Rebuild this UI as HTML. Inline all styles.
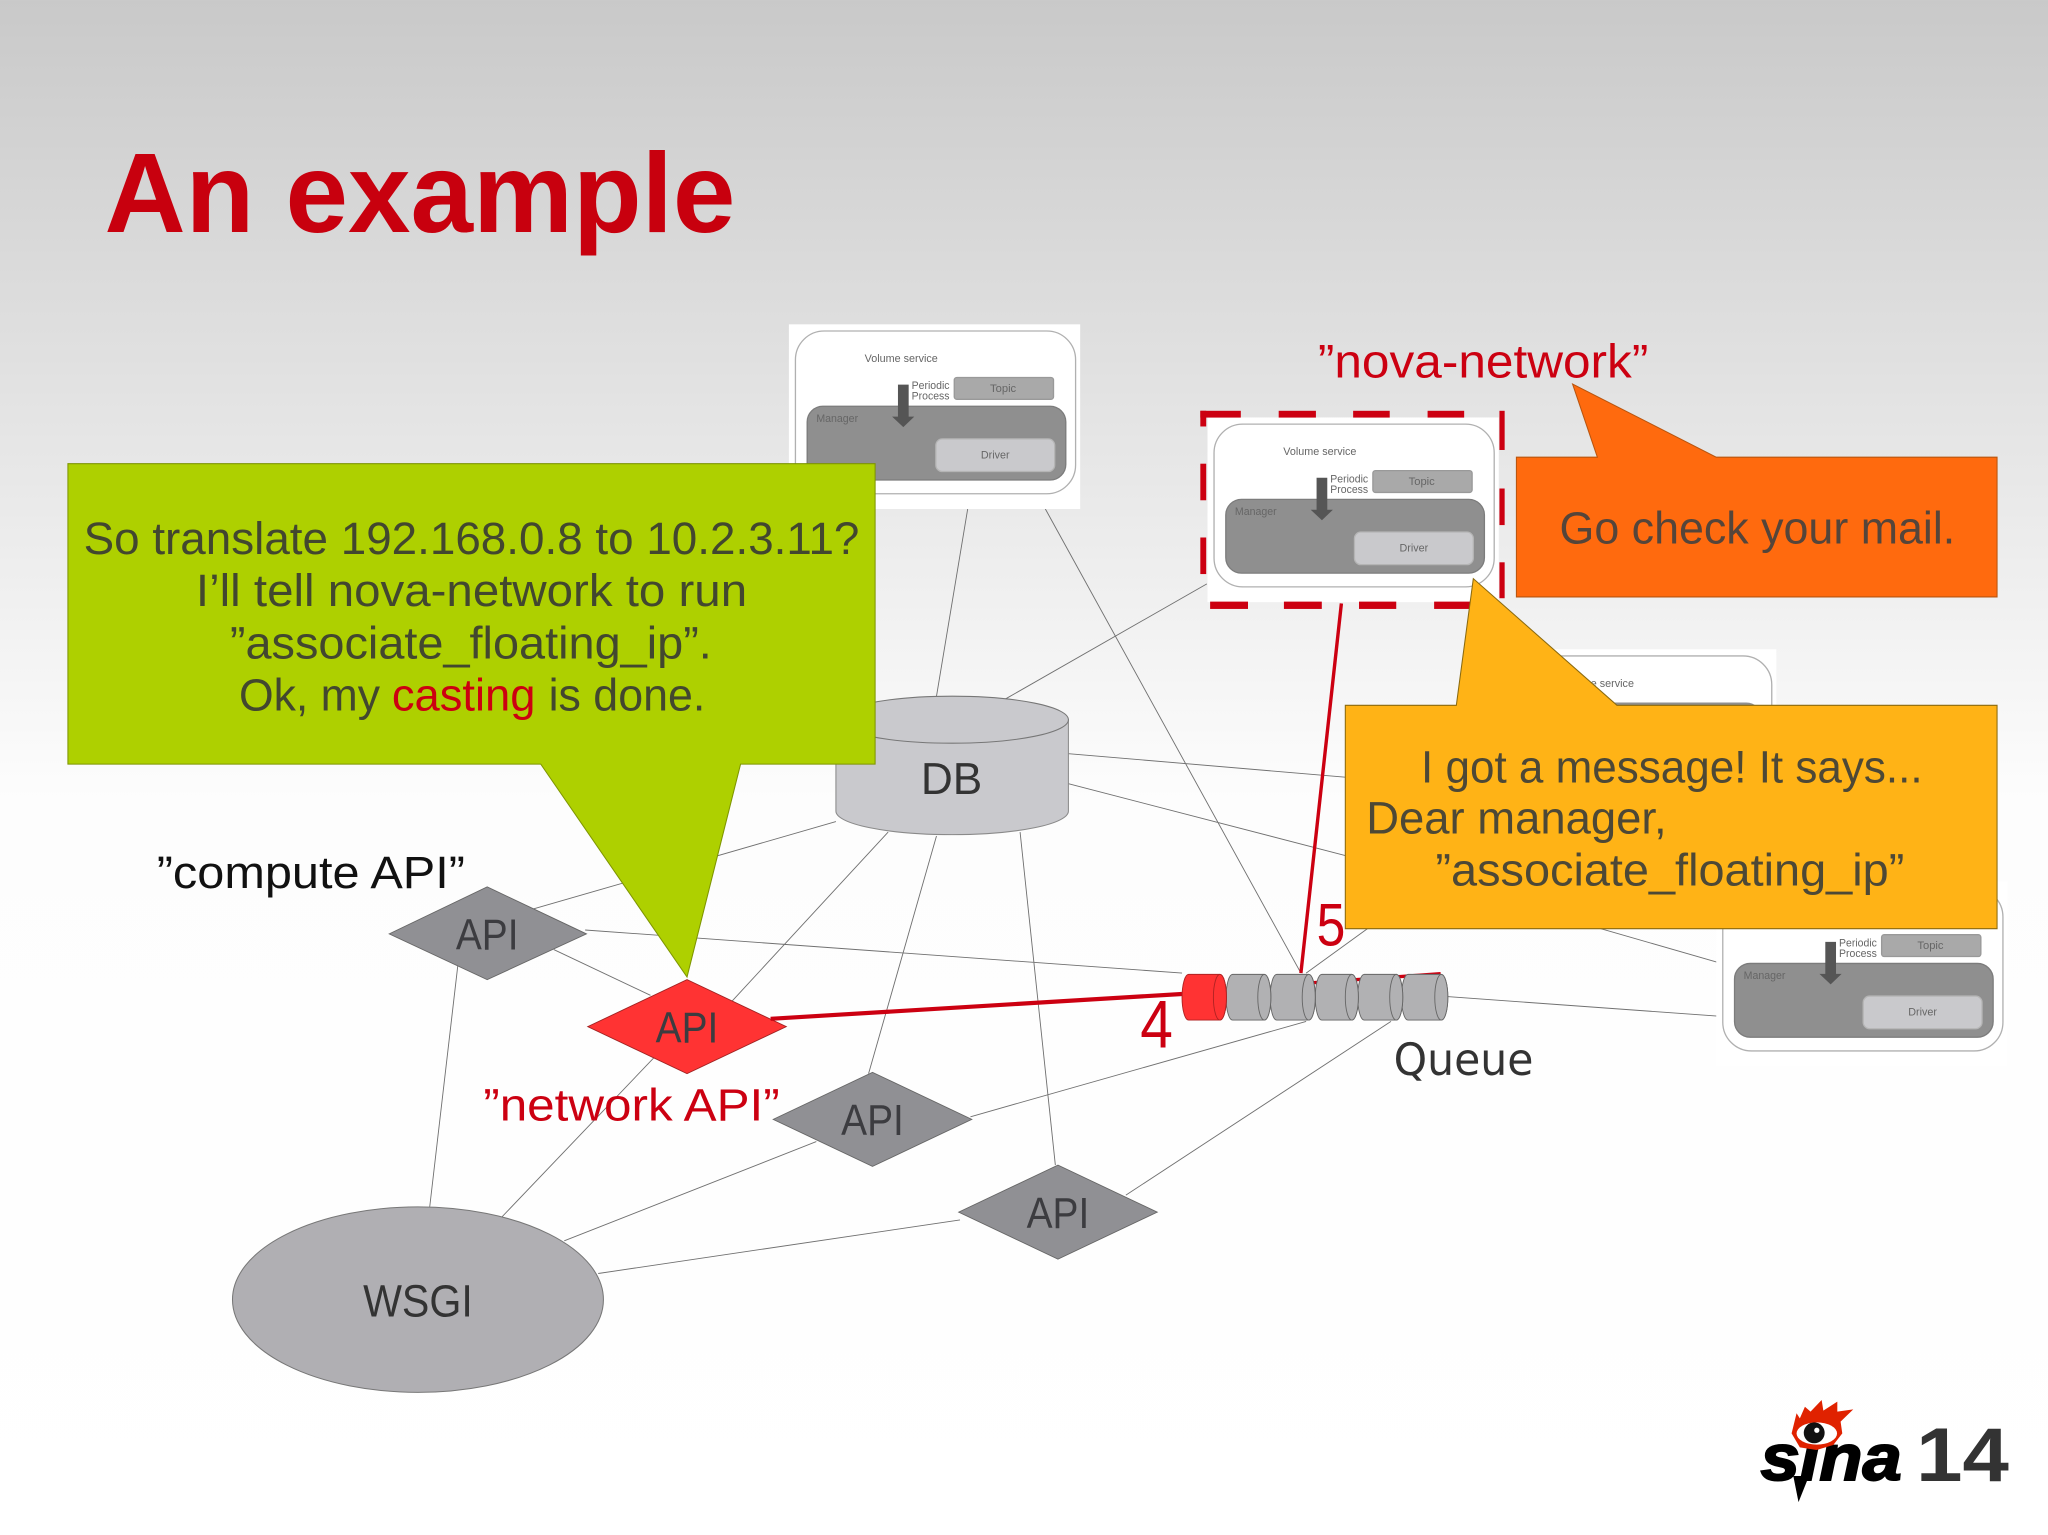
<!DOCTYPE html>
<html><head><meta charset="utf-8"><title>An example</title>
<style>html,body{margin:0;padding:0;background:#fff}svg{display:block}text{font-family:"Liberation Sans",sans-serif}</style></head>
<body>
<svg xmlns="http://www.w3.org/2000/svg" width="2048" height="1535" viewBox="0 0 1568 1175.2">
<defs><linearGradient id="bg" x1="0" y1="0" x2="0" y2="1"><stop offset="0" stop-color="#c9c9c9"/><stop offset="0.52" stop-color="#fdfdfd"/><stop offset="1" stop-color="#fff"/></linearGradient></defs>
<rect width="1568" height="1176" fill="url(#bg)"/>
<text x="80" y="177.5" font-size="87" font-weight="bold" fill="#c8000e" textLength="483" lengthAdjust="spacingAndGlyphs">An example</text>

<g stroke="#707070" stroke-width="0.7" fill="none">
<path d="M741 389L717 533M800 389L996 745M924 447L770 535M818 577L1030 595M818 600L1030 655M640 629L408 696M680 637L560 767M717 640L665 822M781 637L808 892M448 712L905 745M424 727L498 762M351 735L329 924M510 800L384 932M743 855L1000 782M625 874L432 950M735 934L458 975M862 915L1065 782M1108 763L1316 778M1222 710L1316 737M1000 745L1047 711"/>
</g>

<!-- symbol: top -->
<g>
<rect x="604" y="248.3" width="223" height="141.4" fill="#fff"/>
<rect x="609" y="253.4" width="214.5" height="124.6" rx="22" fill="#fff" stroke="#b0b0b0" stroke-width="1"/>
<rect x="618" y="311" width="198" height="56.5" rx="12" fill="#8f8f8f" stroke="#7c7c7c"/>
<rect x="716.5" y="336" width="91" height="25" rx="5" fill="#c9c9cc" stroke="#b5b5b5"/>
<rect x="730.6" y="289" width="76" height="16.7" rx="2" fill="#a9a9a9" stroke="#999"/>
<path d="M687.5 294.5H695.7V319H700L691.6 327L683 319H687.5Z" fill="#555"/>
<g font-size="8.5" fill="#666"><text x="662" y="277" textLength="56" lengthAdjust="spacingAndGlyphs">Volume service</text><text x="698" y="298" textLength="29" lengthAdjust="spacingAndGlyphs">Periodic</text><text x="698" y="306" textLength="29" lengthAdjust="spacingAndGlyphs">Process</text><text x="758" y="300" textLength="20" lengthAdjust="spacingAndGlyphs">Topic</text><text x="625" y="323" textLength="32" lengthAdjust="spacingAndGlyphs">Manager</text><text x="751" y="351" textLength="22" lengthAdjust="spacingAndGlyphs">Driver</text></g>
</g>
<!-- symbol: nova-network -->
<g transform="translate(320.5 71.3)">
<rect x="604" y="248.3" width="223" height="141.4" fill="#fff"/>
<rect x="609" y="253.4" width="214.5" height="124.6" rx="22" fill="#fff" stroke="#b0b0b0" stroke-width="1"/>
<rect x="618" y="311" width="198" height="56.5" rx="12" fill="#8f8f8f" stroke="#7c7c7c"/>
<rect x="716.5" y="336" width="91" height="25" rx="5" fill="#c9c9cc" stroke="#b5b5b5"/>
<rect x="730.6" y="289" width="76" height="16.7" rx="2" fill="#a9a9a9" stroke="#999"/>
<path d="M687.5 294.5H695.7V319H700L691.6 327L683 319H687.5Z" fill="#555"/>
<g font-size="8.5" fill="#666"><text x="662" y="277" textLength="56" lengthAdjust="spacingAndGlyphs">Volume service</text><text x="698" y="298" textLength="29" lengthAdjust="spacingAndGlyphs">Periodic</text><text x="698" y="306" textLength="29" lengthAdjust="spacingAndGlyphs">Process</text><text x="758" y="300" textLength="20" lengthAdjust="spacingAndGlyphs">Topic</text><text x="625" y="323" textLength="32" lengthAdjust="spacingAndGlyphs">Manager</text><text x="751" y="351" textLength="22" lengthAdjust="spacingAndGlyphs">Driver</text></g>
</g>
<!-- symbol: hidden behind yellow -->
<g transform="translate(533 248.8)">
<rect x="604" y="248.3" width="223" height="141.4" fill="#fff"/>
<rect x="609" y="253.4" width="214.5" height="124.6" rx="22" fill="#fff" stroke="#b0b0b0" stroke-width="1"/>
<rect x="618" y="289" width="198" height="78" rx="12" fill="#8f8f8f"/>
<text x="662" y="277" font-size="8.5" fill="#666" textLength="56" lengthAdjust="spacingAndGlyphs">Volume service</text>
</g>
<!-- symbol: right -->
<g transform="translate(710 426.6)">
<rect x="604" y="248.3" width="223" height="141.4" fill="#fff"/>
<rect x="609" y="253.4" width="214.5" height="124.6" rx="22" fill="#fff" stroke="#b0b0b0" stroke-width="1"/>
<rect x="618" y="311" width="198" height="56.5" rx="12" fill="#8f8f8f" stroke="#7c7c7c"/>
<rect x="716.5" y="336" width="91" height="25" rx="5" fill="#c9c9cc" stroke="#b5b5b5"/>
<rect x="730.6" y="289" width="76" height="16.7" rx="2" fill="#a9a9a9" stroke="#999"/>
<path d="M687.5 294.5H695.7V319H700L691.6 327L683 319H687.5Z" fill="#555"/>
<g font-size="8.5" fill="#666"><text x="698" y="298" textLength="29" lengthAdjust="spacingAndGlyphs">Periodic</text><text x="698" y="306" textLength="29" lengthAdjust="spacingAndGlyphs">Process</text><text x="758" y="300" textLength="20" lengthAdjust="spacingAndGlyphs">Topic</text><text x="625" y="323" textLength="32" lengthAdjust="spacingAndGlyphs">Manager</text><text x="751" y="351" textLength="22" lengthAdjust="spacingAndGlyphs">Driver</text></g>
</g>

<!-- red dashes -->
<g fill="#cc0011">
<rect x="919" y="314.5" width="31" height="5.2"/><rect x="979" y="314.5" width="28.5" height="5.2"/><rect x="1036" y="314.5" width="28" height="5.2"/><rect x="1093" y="314.5" width="28" height="5.2"/>
<rect x="919" y="314.5" width="4.5" height="12"/><rect x="919" y="355" width="4.5" height="28"/><rect x="919" y="411.5" width="4.5" height="28"/>
<rect x="1148" y="314.5" width="4" height="30"/><rect x="1148" y="374" width="4" height="28"/><rect x="1148" y="430.5" width="4" height="27.5"/>
<rect x="926.5" y="460.6" width="29" height="5.6"/><rect x="983" y="460.6" width="29" height="5.6"/><rect x="1040.5" y="460.6" width="28.5" height="5.6"/><rect x="1098" y="460.6" width="28" height="5.6"/>
</g>

<!-- DB -->
<path d="M640 551V621A89 18 0 0 0 818 621V551Z" fill="#c9c9cd" stroke="#8a8a8a" stroke-width="0.8"/>
<ellipse cx="729" cy="551" rx="89" ry="18" fill="#c9c9cd" stroke="#777" stroke-width="0.8"/>
<text x="705" y="608" font-size="34" fill="#333" textLength="47" lengthAdjust="spacingAndGlyphs">DB</text>

<!-- WSGI -->
<ellipse cx="320" cy="995" rx="142" ry="71" fill="#b0afb3" stroke="#777" stroke-width="0.8"/>
<text x="278" y="1008" font-size="35" fill="#333" textLength="84" lengthAdjust="spacingAndGlyphs">WSGI</text>

<!-- diamonds -->
<g stroke-width="0.7">
<path d="M298 715L373 679L449 715L373 750Z" fill="#909094" stroke="#666"/>
<path d="M450 786L526 750L602 786L526 822Z" fill="#ff3333" stroke="#a02222"/>
<path d="M592 857L668 821L744 857L668 893Z" fill="#909094" stroke="#666"/>
<path d="M734 928L810 892L886 928L810 964Z" fill="#909094" stroke="#666"/>
</g>
<g font-size="33" fill="#3c3c40">
<text x="349" y="727" textLength="48" lengthAdjust="spacingAndGlyphs">API</text>
<text x="502" y="798" textLength="48" lengthAdjust="spacingAndGlyphs">API</text>
<text x="644" y="869" textLength="48" lengthAdjust="spacingAndGlyphs">API</text>
<text x="786" y="940" textLength="48" lengthAdjust="spacingAndGlyphs">API</text>
</g>

<!-- red connectors -->
<path d="M590 780L905 761" stroke="#cc0011" stroke-width="3.2" fill="none"/>
<path d="M1027 462L996 745" stroke="#cc0011" stroke-width="2.6" fill="none"/>
<path d="M996 753L1103 745.5" stroke="#cc0011" stroke-width="2.6" fill="none"/>

<!-- queue -->
<g stroke="#666" stroke-width="0.7" fill="#b1b1b3">
<path d="M1078 746H1103.5A5 17.5 0 0 1 1103.5 781H1078A5 17.5 0 0 1 1078 746Z"/>
<ellipse cx="1103.5" cy="763.5" rx="5" ry="17.5"/>
<path d="M1044.5 746H1069A5 17.5 0 0 1 1069 781H1044.5A5 17.5 0 0 1 1044.5 746Z"/>
<ellipse cx="1069" cy="763.5" rx="5" ry="17.5"/>
<path d="M1012 746H1035A5 17.5 0 0 1 1035 781H1012A5 17.5 0 0 1 1012 746Z"/>
<ellipse cx="1035" cy="763.5" rx="5" ry="17.5"/>
<path d="M977.5 746H1002A5 17.5 0 0 1 1002 781H977.5A5 17.5 0 0 1 977.5 746Z"/>
<ellipse cx="1002" cy="763.5" rx="5" ry="17.5"/>
<path d="M943.7 746H968A5 17.5 0 0 1 968 781H943.7A5 17.5 0 0 1 943.7 746Z"/>
<ellipse cx="968" cy="763.5" rx="5" ry="17.5"/>
<path d="M910 746H934A5 17.5 0 0 1 934 781H910A5 17.5 0 0 1 910 746Z" fill="#ff3333" stroke="#b02222"/>
<ellipse cx="934" cy="763.5" rx="5" ry="17.5" fill="#ff3333" stroke="#b02222"/>
</g>

<!-- labels -->
<text x="1067" y="823" font-size="34" fill="#333" textLength="107" lengthAdjust="spacingAndGlyphs" style="font-family:'DejaVu Sans',sans-serif">Queue</text>
<text x="873" y="802" font-size="52" fill="#cc0011" textLength="25" lengthAdjust="spacingAndGlyphs">4</text>
<text x="1008" y="724" font-size="46" fill="#cc0011" textLength="22" lengthAdjust="spacingAndGlyphs">5</text>
<text x="1009" y="289" font-size="36" fill="#cc0011" textLength="253" lengthAdjust="spacingAndGlyphs">”nova-network”</text>
<text x="120" y="680" font-size="35" fill="#111" textLength="236" lengthAdjust="spacingAndGlyphs">”compute API”</text>
<text x="370" y="858" font-size="35" fill="#cc0011" textLength="227" lengthAdjust="spacingAndGlyphs">”network API”</text>

<!-- callouts -->
<path d="M52 355H670V585H567L526 748L414 585H52Z" fill="#aed000" stroke="#7e9500" stroke-width="0.8"/>
<path d="M1161 350H1223L1204 294L1314 350H1529V457H1161Z" fill="#ff6a0e" stroke="#b8550f" stroke-width="0.8"/>
<path d="M1030 540H1115L1128 443L1238 540H1529V711H1030Z" fill="#ffb316" stroke="#8a6a10" stroke-width="0.8"/>

<g font-size="35" fill="#42472f">
<text x="64" y="424" textLength="594" lengthAdjust="spacingAndGlyphs">So translate 192.168.0.8 to 10.2.3.11?</text>
<text x="150" y="464" textLength="422" lengthAdjust="spacingAndGlyphs">I’ll tell nova-network to run</text>
<text x="176" y="504" textLength="369" lengthAdjust="spacingAndGlyphs">”associate_floating_ip”.</text>
<text x="183" y="544" textLength="108" lengthAdjust="spacingAndGlyphs">Ok, my</text>
<text x="300" y="544" textLength="110" lengthAdjust="spacingAndGlyphs" fill="#cc0011">casting</text>
<text x="420" y="544" textLength="120" lengthAdjust="spacingAndGlyphs">is done.</text>
</g>
<text x="1194" y="416" font-size="35" fill="#55453a" textLength="303" lengthAdjust="spacingAndGlyphs">Go check your mail.</text>
<g font-size="35" fill="#4d4836">
<text x="1088" y="599" textLength="384" lengthAdjust="spacingAndGlyphs">I got a message! It says...</text>
<text x="1046" y="638" textLength="230" lengthAdjust="spacingAndGlyphs">Dear manager,</text>
<text x="1099" y="678" textLength="359" lengthAdjust="spacingAndGlyphs">”associate_floating_ip”</text>
</g>

<!-- logo -->
<text x="1348" y="1133" font-size="50" font-weight="bold" font-style="italic" fill="#000" stroke="#000" stroke-width="1.5" textLength="108" lengthAdjust="spacingAndGlyphs">sina</text>
<path d="M1373 1130L1385 1130L1377 1150Z" fill="#000"/>
<path d="M1371.7 1097.4L1375.5 1082L1378 1085.9L1381.9 1077L1386.2 1080.8L1394.7 1071.9L1396 1080L1406.7 1073.1L1406.7 1080.8L1418.9 1079L1409.2 1088.4L1410.5 1097.4L1403.6 1106.3L1390.8 1110.1L1378 1108.1Z" fill="#e02200"/>
<ellipse cx="1391" cy="1097.5" rx="15.5" ry="8.5" fill="#fff"/>
<circle cx="1389" cy="1097" r="8" fill="#111"/>
<circle cx="1391" cy="1095" r="2" fill="#fff"/>
<text x="1467" y="1134" font-size="58" font-weight="bold" fill="#333" textLength="71" lengthAdjust="spacingAndGlyphs">14</text>
</svg>
</body></html>
